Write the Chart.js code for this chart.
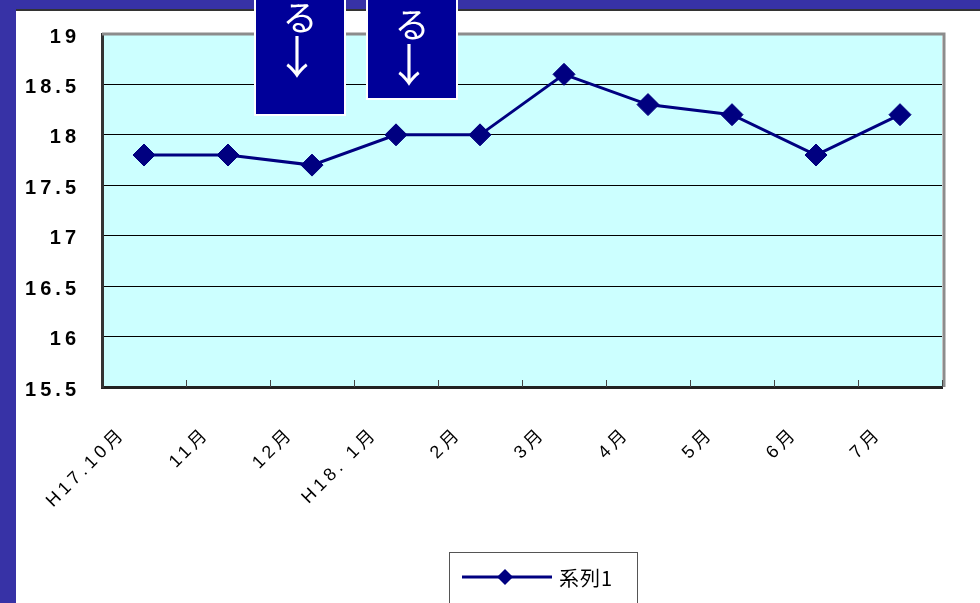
<!DOCTYPE html>
<html>
<head>
<meta charset="utf-8">
<script src="https://cdn.jsdelivr.net/npm/chart.js@4/dist/chart.umd.min.js"></script>
<style>
  html, body { margin: 0; padding: 0; }
  body { width: 980px; height: 603px; overflow: hidden; position: relative;
         background: #3732a6; }
  #panel { position: absolute; left: 16px; top: 10px; width: 964px; height: 593px; background: #fff; }
  #edge { position: absolute; left: 16px; top: 9px; width: 964px; height: 2px; background: #333; }
  #chart { position: absolute; left: 16px; top: 10px; }
  .note { position: absolute; box-sizing: border-box; background: #000099; border: 2px solid #fff;
          color: #fff; font-family: "Noto Sans CJK JP", sans-serif; }
  .note span { position: absolute; left: 0; right: 0; text-align: center; line-height: 1; }
</style>
</head>
<body>
<div id="panel"></div>
<div id="edge"></div>
<canvas id="chart" width="964" height="593"></canvas>
<div class="note" style="left:254px; top:-10px; width:92px; height:126px;">
  <span style="top:6px; font-size:35px;">る</span>
  <span style="top:40px; font-size:45px; left:-6px;">↓</span>
</div>
<div class="note" style="left:366px; top:-10px; width:92px; height:110px;">
  <span style="top:13px; font-size:35px;">る</span>
  <span style="top:48px; font-size:45px; left:-6px;">↓</span>
</div>
<script>
const categories = ['H17.10月', '11月', '12月', 'H18. 1月', '2月', '3月', '4月', '5月', '6月', '7月'];
const series1 = [17.8, 17.8, 17.7, 18.0, 18.0, 18.6, 18.3, 18.2, 17.8, 18.2];
const seriesName = '系列1';
const yMin = 15.5;
const yMax = 19;
const yStep = 0.5;

const navy = '#000080';

// cyan plot background, grey frame, inner x ticks, boxed legend
const plotFrame = {
    id: 'plotFrame',
    beforeDraw(chart) {
        const { ctx, chartArea: a } = chart;
        ctx.save();
        ctx.fillStyle = '#ccffff';
        ctx.fillRect(a.left, a.top, a.right - a.left, a.bottom - a.top);
        ctx.restore();
        ctx.letterSpacing = '4px';
    },
    beforeDatasetsDraw(chart) {
        const { ctx, chartArea: a } = chart;
        const xs = chart.scales.x;
        ctx.save();
        ctx.strokeStyle = '#8c8c8c';
        ctx.lineWidth = 3;
        ctx.beginPath();
        ctx.moveTo(a.left, a.top);
        ctx.lineTo(a.right + 2, a.top);
        ctx.lineTo(a.right + 2, a.bottom);
        ctx.stroke();
        ctx.strokeStyle = '#444';
        ctx.lineWidth = 1;
        ctx.beginPath();
        for (let i = 1; i <= chart.data.labels.length; i++) {
            const x = Math.round(xs.getPixelForValue(i - 0.5)) + 0.5;
            ctx.moveTo(x, a.bottom);
            ctx.lineTo(x, a.bottom - 7);
        }
        ctx.stroke();
        ctx.restore();
    },
    afterDraw(chart) {
        const ctx = chart.ctx;
        const ds = chart.data.datasets[0];
        ctx.save();
        ctx.letterSpacing = '1px';
        ctx.strokeStyle = '#555';
        ctx.lineWidth = 1;
        ctx.strokeRect(433.5, 542.5, 188, 60);
        ctx.strokeStyle = ds.borderColor;
        ctx.lineWidth = 3;
        ctx.beginPath();
        ctx.moveTo(446, 567);
        ctx.lineTo(536, 567);
        ctx.stroke();
        ctx.fillStyle = ds.borderColor;
        ctx.beginPath();
        ctx.moveTo(489, 559);
        ctx.lineTo(497, 567);
        ctx.lineTo(489, 575);
        ctx.lineTo(481, 567);
        ctx.closePath();
        ctx.fill();
        ctx.fillStyle = '#000';
        ctx.font = '20px "Noto Sans CJK JP", sans-serif';
        ctx.textBaseline = 'middle';
        ctx.textAlign = 'left';
        ctx.fillText(ds.label, 543, 568);
        ctx.restore();
    }
};

const ctx = document.getElementById('chart').getContext('2d');
const chart = new Chart(ctx, {
    type: 'line',
    data: {
        labels: categories,
        datasets: [{
            label: seriesName,
            data: series1,
            borderColor: navy,
            backgroundColor: navy,
            borderWidth: 3,
            pointStyle: 'rectRot',
            pointRadius: 11,
            pointBackgroundColor: navy,
            pointBorderColor: navy,
            pointBorderWidth: 1,
            tension: 0
        }]
    },
    options: {
        responsive: false,
        animation: false,
        devicePixelRatio: 1,
        layout: { padding: { left: 0, right: 38, top: 24, bottom: 0 } },
        plugins: {
            legend: { display: false },
            tooltip: { enabled: false }
        },
        scales: {
            x: {
                offset: true,
                afterFit(scale) { scale.height = 216; },
                grid: { display: false },
                border: { display: true, color: '#222', width: 3 },
                ticks: {
                    autoSkip: false,
                    minRotation: 45,
                    maxRotation: 45,
                    padding: 28,
                    labelOffset: -21,
                    color: '#000',
                    font: { family: '"Liberation Sans", "Noto Sans CJK JP", sans-serif', size: 18 }
                }
            },
            y: {
                min: yMin,
                max: yMax,
                afterFit(scale) {
                    scale.width = 86;
                    scale.paddingTop = 0;
                    scale.paddingBottom = 0;
                },
                grid: { color: '#000', lineWidth: 1, drawTicks: false },
                border: { display: true, color: '#333', width: 3 },
                ticks: {
                    stepSize: yStep,
                    padding: 22,
                    labelOffset: 3,
                    color: '#000',
                    font: { family: '"Liberation Sans", sans-serif', size: 20, weight: 'bold' },
                    callback: (v) => String(+v.toFixed(1))
                }
            }
        }
    },
    plugins: [plotFrame]
});
</script>
</body>
</html>
